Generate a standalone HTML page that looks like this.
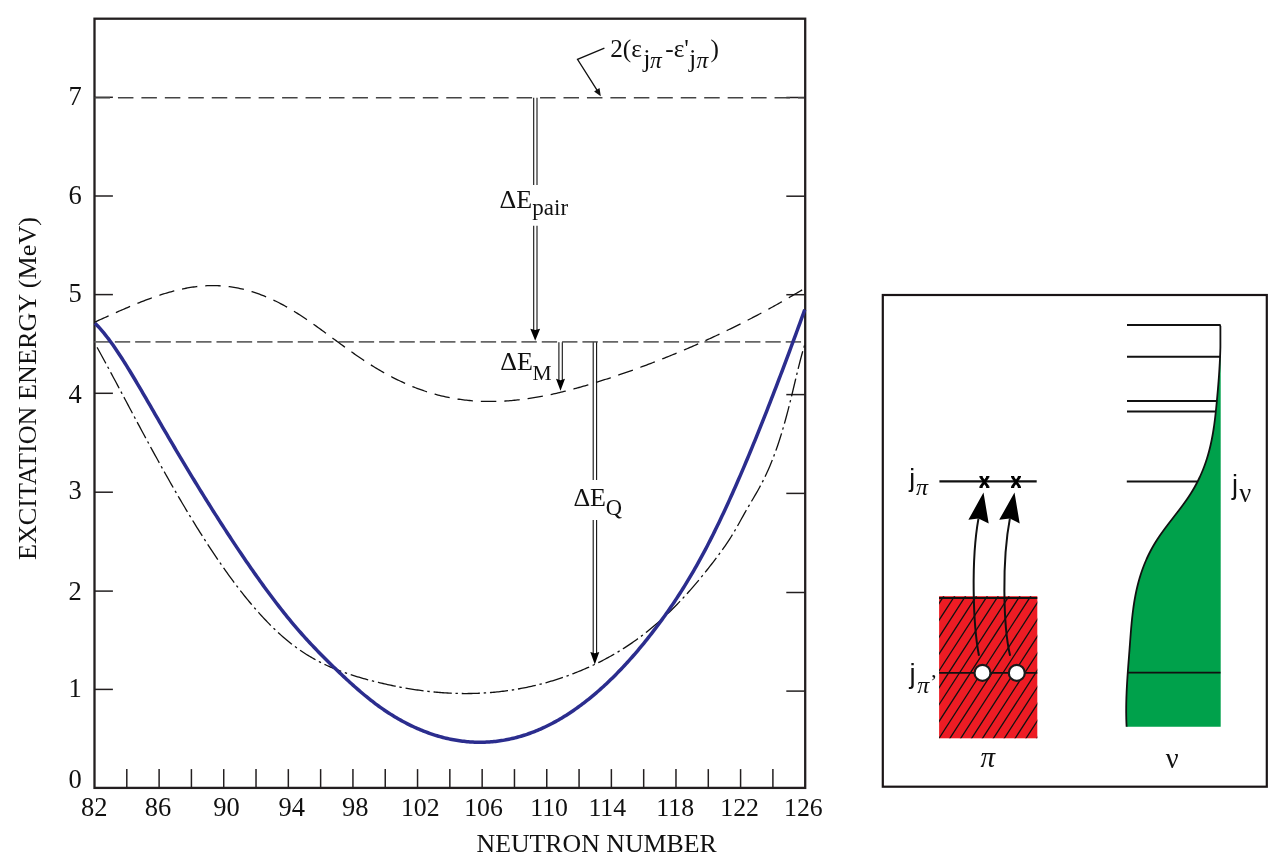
<!DOCTYPE html>
<html><head><meta charset="utf-8"><style>
html,body{margin:0;padding:0;background:#fff;}
svg{display:block;will-change:transform;}
</style></head><body>
<svg width="1288" height="866" viewBox="0 0 1288 866">
<rect x="94.5" y="18.7" width="710.70" height="769.20" fill="none" stroke="#231f20" stroke-width="2.3"/>
<line x1="126.80" y1="787.9" x2="126.80" y2="769.10" stroke="#231f20" stroke-width="1.5"/>
<line x1="159.11" y1="787.9" x2="159.11" y2="769.10" stroke="#231f20" stroke-width="1.5"/>
<line x1="191.41" y1="787.9" x2="191.41" y2="769.10" stroke="#231f20" stroke-width="1.5"/>
<line x1="223.72" y1="787.9" x2="223.72" y2="769.10" stroke="#231f20" stroke-width="1.5"/>
<line x1="256.02" y1="787.9" x2="256.02" y2="769.10" stroke="#231f20" stroke-width="1.5"/>
<line x1="288.33" y1="787.9" x2="288.33" y2="769.10" stroke="#231f20" stroke-width="1.5"/>
<line x1="320.63" y1="787.9" x2="320.63" y2="769.10" stroke="#231f20" stroke-width="1.5"/>
<line x1="352.94" y1="787.9" x2="352.94" y2="769.10" stroke="#231f20" stroke-width="1.5"/>
<line x1="385.24" y1="787.9" x2="385.24" y2="769.10" stroke="#231f20" stroke-width="1.5"/>
<line x1="417.55" y1="787.9" x2="417.55" y2="769.10" stroke="#231f20" stroke-width="1.5"/>
<line x1="449.85" y1="787.9" x2="449.85" y2="769.10" stroke="#231f20" stroke-width="1.5"/>
<line x1="482.15" y1="787.9" x2="482.15" y2="769.10" stroke="#231f20" stroke-width="1.5"/>
<line x1="514.46" y1="787.9" x2="514.46" y2="769.10" stroke="#231f20" stroke-width="1.5"/>
<line x1="546.76" y1="787.9" x2="546.76" y2="769.10" stroke="#231f20" stroke-width="1.5"/>
<line x1="579.07" y1="787.9" x2="579.07" y2="769.10" stroke="#231f20" stroke-width="1.5"/>
<line x1="611.37" y1="787.9" x2="611.37" y2="769.10" stroke="#231f20" stroke-width="1.5"/>
<line x1="643.68" y1="787.9" x2="643.68" y2="769.10" stroke="#231f20" stroke-width="1.5"/>
<line x1="675.98" y1="787.9" x2="675.98" y2="769.10" stroke="#231f20" stroke-width="1.5"/>
<line x1="708.29" y1="787.9" x2="708.29" y2="769.10" stroke="#231f20" stroke-width="1.5"/>
<line x1="740.59" y1="787.9" x2="740.59" y2="769.10" stroke="#231f20" stroke-width="1.5"/>
<line x1="772.90" y1="787.9" x2="772.90" y2="769.10" stroke="#231f20" stroke-width="1.5"/>
<line x1="94.5" y1="689.40" x2="112.9" y2="689.40" stroke="#231f20" stroke-width="1.5"/>
<line x1="805.2" y1="691.10" x2="786.3" y2="691.10" stroke="#231f20" stroke-width="1.5"/>
<line x1="94.5" y1="591.10" x2="112.9" y2="591.10" stroke="#231f20" stroke-width="1.5"/>
<line x1="805.2" y1="592.50" x2="786.3" y2="592.50" stroke="#231f20" stroke-width="1.5"/>
<line x1="94.5" y1="492.20" x2="112.9" y2="492.20" stroke="#231f20" stroke-width="1.5"/>
<line x1="805.2" y1="493.40" x2="786.3" y2="493.40" stroke="#231f20" stroke-width="1.5"/>
<line x1="94.5" y1="393.30" x2="112.9" y2="393.30" stroke="#231f20" stroke-width="1.5"/>
<line x1="805.2" y1="394.60" x2="786.3" y2="394.60" stroke="#231f20" stroke-width="1.5"/>
<line x1="94.5" y1="294.60" x2="112.9" y2="294.60" stroke="#231f20" stroke-width="1.5"/>
<line x1="805.2" y1="294.70" x2="786.3" y2="294.70" stroke="#231f20" stroke-width="1.5"/>
<line x1="94.5" y1="196.00" x2="112.9" y2="196.00" stroke="#231f20" stroke-width="1.5"/>
<line x1="805.2" y1="196.20" x2="786.3" y2="196.20" stroke="#231f20" stroke-width="1.5"/>
<line x1="94.5" y1="97.30" x2="112.9" y2="97.30" stroke="#231f20" stroke-width="1.5"/>
<line x1="805.2" y1="97.50" x2="786.3" y2="97.50" stroke="#231f20" stroke-width="1.5"/>
<line x1="94.5" y1="97.8" x2="804.20" y2="97.8" stroke="#444" stroke-width="1.5" stroke-dasharray="15.5 7.95"/>
<line x1="94.5" y1="341.8" x2="801.6" y2="341.8" stroke="#666" stroke-width="1.7" stroke-dasharray="15.35 4.98"/>
<path d="M94.50,322.25 L96.00,321.57 L97.50,320.89 L99.00,320.21 L100.50,319.53 L102.00,318.85 L103.50,318.17 L105.00,317.49 L106.50,316.82 L108.00,316.14 L109.50,315.46 L111.00,314.79 L112.50,314.11 L114.00,313.44 L115.50,312.77 L117.00,312.11 L118.50,311.44 L120.00,310.78 L121.50,310.13 L123.00,309.47 L124.50,308.82 L126.00,308.17 L127.50,307.53 L129.00,306.89 L130.50,306.26 L132.00,305.63 L133.50,305.00 L135.00,304.39 L136.50,303.77 L138.00,303.17 L139.50,302.56 L141.00,301.97 L142.50,301.38 L144.00,300.80 L145.50,300.22 L147.00,299.66 L148.50,299.10 L150.00,298.54 L151.50,298.00 L153.00,297.46 L154.50,296.94 L156.00,296.42 L157.50,295.91 L159.00,295.41 L160.50,294.92 L162.00,294.44 L163.50,293.96 L165.00,293.50 L166.50,293.05 L168.00,292.61 L169.50,292.18 L171.00,291.76 L172.50,291.36 L174.00,290.96 L175.50,290.58 L177.00,290.21 L178.50,289.85 L180.00,289.50 L181.50,289.17 L183.00,288.85 L184.50,288.54 L186.00,288.25 L187.50,287.97 L189.00,287.71 L190.50,287.46 L192.00,287.22 L193.50,287.00 L195.00,286.79 L196.50,286.60 L198.00,286.43 L199.50,286.27 L201.00,286.12 L202.50,285.99 L204.00,285.88 L205.50,285.79 L207.00,285.71 L208.50,285.65 L210.00,285.61 L211.50,285.58 L213.00,285.58 L214.50,285.59 L216.00,285.62 L217.50,285.67 L219.00,285.73 L220.50,285.82 L222.00,285.92 L223.50,286.04 L225.00,286.18 L226.50,286.33 L228.00,286.51 L229.50,286.70 L231.00,286.91 L232.50,287.14 L234.00,287.38 L235.50,287.65 L237.00,287.93 L238.50,288.23 L240.00,288.54 L241.50,288.87 L243.00,289.23 L244.50,289.59 L246.00,289.98 L247.50,290.38 L249.00,290.80 L250.50,291.24 L252.00,291.70 L253.50,292.17 L255.00,292.66 L256.50,293.16 L258.00,293.69 L259.50,294.23 L261.00,294.79 L262.50,295.36 L264.00,295.95 L265.50,296.56 L267.00,297.19 L268.50,297.83 L270.00,298.49 L271.50,299.16 L273.00,299.85 L274.50,300.56 L276.00,301.29 L277.50,302.03 L279.00,302.79 L280.50,303.56 L282.00,304.35 L283.50,305.16 L285.00,305.99 L286.50,306.83 L288.00,307.68 L289.50,308.55 L291.00,309.44 L292.50,310.35 L294.00,311.26 L295.50,312.19 L297.00,313.14 L298.50,314.10 L300.00,315.07 L301.50,316.05 L303.00,317.04 L304.50,318.04 L306.00,319.05 L307.50,320.08 L309.00,321.11 L310.50,322.15 L312.00,323.20 L313.50,324.25 L315.00,325.32 L316.50,326.39 L318.00,327.46 L319.50,328.54 L321.00,329.63 L322.50,330.72 L324.00,331.81 L325.50,332.91 L327.00,334.01 L328.50,335.11 L330.00,336.21 L331.50,337.31 L333.00,338.42 L334.50,339.52 L336.00,340.63 L337.50,341.73 L339.00,342.83 L340.50,343.93 L342.00,345.03 L343.50,346.12 L345.00,347.21 L346.50,348.30 L348.00,349.38 L349.50,350.46 L351.00,351.53 L352.50,352.59 L354.00,353.65 L355.50,354.69 L357.00,355.74 L358.50,356.77 L360.00,357.79 L361.50,358.81 L363.00,359.81 L364.50,360.80 L366.00,361.79 L367.50,362.76 L369.00,363.72 L370.50,364.67 L372.00,365.61 L373.50,366.54 L375.00,367.45 L376.50,368.36 L378.00,369.25 L379.50,370.13 L381.00,371.00 L382.50,371.86 L384.00,372.71 L385.50,373.55 L387.00,374.37 L388.50,375.18 L390.00,375.98 L391.50,376.77 L393.00,377.55 L394.50,378.31 L396.00,379.07 L397.50,379.81 L399.00,380.53 L400.50,381.25 L402.00,381.95 L403.50,382.65 L405.00,383.32 L406.50,383.99 L408.00,384.65 L409.50,385.29 L411.00,385.92 L412.50,386.53 L414.00,387.14 L415.50,387.73 L417.00,388.30 L418.50,388.87 L420.00,389.42 L421.50,389.96 L423.00,390.48 L424.50,391.00 L426.00,391.50 L427.50,391.98 L429.00,392.46 L430.50,392.91 L432.00,393.36 L433.50,393.79 L435.00,394.22 L436.50,394.62 L438.00,395.02 L439.50,395.40 L441.00,395.77 L442.50,396.13 L444.00,396.47 L445.50,396.80 L447.00,397.12 L448.50,397.43 L450.00,397.73 L451.50,398.01 L453.00,398.28 L454.50,398.54 L456.00,398.79 L457.50,399.03 L459.00,399.26 L460.50,399.47 L462.00,399.67 L463.50,399.86 L465.00,400.04 L466.50,400.21 L468.00,400.37 L469.50,400.52 L471.00,400.65 L472.50,400.78 L474.00,400.89 L475.50,401.00 L477.00,401.09 L478.50,401.17 L480.00,401.25 L481.50,401.31 L483.00,401.36 L484.50,401.40 L486.00,401.44 L487.50,401.46 L489.00,401.47 L490.50,401.47 L492.00,401.47 L493.50,401.45 L495.00,401.43 L496.50,401.39 L498.00,401.35 L499.50,401.29 L501.00,401.23 L502.50,401.16 L504.00,401.08 L505.50,400.99 L507.00,400.89 L508.50,400.78 L510.00,400.66 L511.50,400.54 L513.00,400.41 L514.50,400.27 L516.00,400.12 L517.50,399.96 L519.00,399.79 L520.50,399.62 L522.00,399.44 L523.50,399.25 L525.00,399.05 L526.50,398.84 L528.00,398.63 L529.50,398.41 L531.00,398.18 L532.50,397.95 L534.00,397.71 L535.50,397.46 L537.00,397.20 L538.50,396.94 L540.00,396.67 L541.50,396.39 L543.00,396.11 L544.50,395.82 L546.00,395.52 L547.50,395.21 L549.00,394.90 L550.50,394.59 L552.00,394.27 L553.50,393.94 L555.00,393.60 L556.50,393.26 L558.00,392.92 L559.50,392.56 L561.00,392.21 L562.50,391.84 L564.00,391.47 L565.50,391.10 L567.00,390.72 L568.50,390.33 L570.00,389.94 L571.50,389.55 L573.00,389.15 L574.50,388.74 L576.00,388.33 L577.50,387.92 L579.00,387.50 L580.50,387.07 L582.00,386.65 L583.50,386.21 L585.00,385.78 L586.50,385.33 L588.00,384.89 L589.50,384.44 L591.00,383.98 L592.50,383.53 L594.00,383.07 L595.50,382.60 L597.00,382.13 L598.50,381.66 L600.00,381.18 L601.50,380.70 L603.00,380.22 L604.50,379.74 L606.00,379.25 L607.50,378.76 L609.00,378.26 L610.50,377.76 L612.00,377.26 L613.50,376.76 L615.00,376.26 L616.50,375.75 L618.00,375.24 L619.50,374.72 L621.00,374.21 L622.50,373.69 L624.00,373.17 L625.50,372.64 L627.00,372.11 L628.50,371.59 L630.00,371.05 L631.50,370.52 L633.00,369.98 L634.50,369.44 L636.00,368.90 L637.50,368.35 L639.00,367.80 L640.50,367.25 L642.00,366.70 L643.50,366.14 L645.00,365.58 L646.50,365.02 L648.00,364.45 L649.50,363.88 L651.00,363.31 L652.50,362.74 L654.00,362.16 L655.50,361.58 L657.00,361.00 L658.50,360.42 L660.00,359.83 L661.50,359.24 L663.00,358.64 L664.50,358.05 L666.00,357.45 L667.50,356.84 L669.00,356.24 L670.50,355.63 L672.00,355.02 L673.50,354.41 L675.00,353.79 L676.50,353.17 L678.00,352.55 L679.50,351.92 L681.00,351.29 L682.50,350.66 L684.00,350.02 L685.50,349.39 L687.00,348.74 L688.50,348.10 L690.00,347.45 L691.50,346.80 L693.00,346.15 L694.50,345.49 L696.00,344.84 L697.50,344.17 L699.00,343.51 L700.50,342.84 L702.00,342.17 L703.50,341.49 L705.00,340.82 L706.50,340.13 L708.00,339.45 L709.50,338.76 L711.00,338.07 L712.50,337.38 L714.00,336.68 L715.50,335.98 L717.00,335.28 L718.50,334.57 L720.00,333.86 L721.50,333.15 L723.00,332.44 L724.50,331.72 L726.00,330.99 L727.50,330.27 L729.00,329.54 L730.50,328.81 L732.00,328.07 L733.50,327.33 L735.00,326.59 L736.50,325.85 L738.00,325.10 L739.50,324.35 L741.00,323.59 L742.50,322.83 L744.00,322.07 L745.50,321.31 L747.00,320.54 L748.50,319.77 L750.00,318.99 L751.50,318.21 L753.00,317.43 L754.50,316.65 L756.00,315.86 L757.50,315.07 L759.00,314.27 L760.50,313.47 L762.00,312.67 L763.50,311.86 L765.00,311.06 L766.50,310.24 L768.00,309.43 L769.50,308.61 L771.00,307.78 L772.50,306.96 L774.00,306.13 L775.50,305.29 L777.00,304.46 L778.50,303.62 L780.00,302.77 L781.50,301.92 L783.00,301.07 L784.50,300.22 L786.00,299.36 L787.50,298.50 L789.00,297.63 L790.50,296.76 L792.00,295.89 L793.50,295.02 L795.00,294.14 L796.50,293.25 L798.00,292.37 L799.50,291.48 L801.00,290.58 L802.50,289.68 L803.00,289.38" fill="none" stroke="#111" stroke-width="1.3" stroke-dasharray="15.5 7.95"/>
<path d="M96.50,346.35 L98.00,349.06 L99.50,351.77 L101.00,354.50 L102.50,357.24 L104.00,359.99 L105.50,362.76 L107.00,365.53 L108.50,368.30 L110.00,371.09 L111.50,373.89 L113.00,376.69 L114.50,379.49 L116.00,382.30 L117.50,385.12 L119.00,387.94 L120.50,390.76 L122.00,393.58 L123.50,396.41 L125.00,399.24 L126.50,402.06 L128.00,404.89 L129.50,407.71 L131.00,410.54 L132.50,413.36 L134.00,416.18 L135.50,418.99 L137.00,421.80 L138.50,424.60 L140.00,427.40 L141.50,430.20 L143.00,432.99 L144.50,435.77 L146.00,438.55 L147.50,441.32 L149.00,444.08 L150.50,446.84 L152.00,449.59 L153.50,452.33 L155.00,455.07 L156.50,457.80 L158.00,460.52 L159.50,463.23 L161.00,465.93 L162.50,468.62 L164.00,471.31 L165.50,473.98 L167.00,476.65 L168.50,479.30 L170.00,481.95 L171.50,484.58 L173.00,487.21 L174.50,489.82 L176.00,492.43 L177.50,495.02 L179.00,497.60 L180.50,500.16 L182.00,502.72 L183.50,505.26 L185.00,507.79 L186.50,510.31 L188.00,512.81 L189.50,515.30 L191.00,517.78 L192.50,520.24 L194.00,522.69 L195.50,525.13 L197.00,527.55 L198.50,529.95 L200.00,532.34 L201.50,534.72 L203.00,537.08 L204.50,539.43 L206.00,541.76 L207.50,544.08 L209.00,546.38 L210.50,548.66 L212.00,550.93 L213.50,553.19 L215.00,555.42 L216.50,557.64 L218.00,559.85 L219.50,562.03 L221.00,564.20 L222.50,566.36 L224.00,568.49 L225.50,570.61 L227.00,572.71 L228.50,574.79 L230.00,576.86 L231.50,578.90 L233.00,580.93 L234.50,582.94 L236.00,584.93 L237.50,586.90 L239.00,588.86 L240.50,590.79 L242.00,592.70 L243.50,594.60 L245.00,596.47 L246.50,598.33 L248.00,600.16 L249.50,601.98 L251.00,603.77 L252.50,605.55 L254.00,607.30 L255.50,609.04 L257.00,610.75 L258.50,612.44 L260.00,614.11 L261.50,615.75 L263.00,617.38 L264.50,618.98 L266.00,620.57 L267.50,622.13 L269.00,623.66 L270.50,625.18 L272.00,626.67 L273.50,628.14 L275.00,629.58 L276.50,631.01 L278.00,632.41 L279.50,633.78 L281.00,635.13 L282.50,636.46 L284.00,637.77 L285.50,639.05 L287.00,640.30 L288.50,641.53 L290.00,642.74 L291.50,643.92 L293.00,645.08 L294.50,646.21 L296.00,647.32 L297.50,648.40 L299.00,649.46 L300.50,650.50 L302.00,651.52 L303.50,652.51 L305.00,653.48 L306.50,654.43 L308.00,655.36 L309.50,656.27 L311.00,657.16 L312.50,658.03 L314.00,658.88 L315.50,659.71 L317.00,660.53 L318.50,661.32 L320.00,662.10 L321.50,662.86 L323.00,663.60 L324.50,664.32 L326.00,665.03 L327.50,665.72 L329.00,666.40 L330.50,667.06 L332.00,667.71 L333.50,668.34 L335.00,668.96 L336.50,669.56 L338.00,670.15 L339.50,670.73 L341.00,671.30 L342.50,671.85 L344.00,672.39 L345.50,672.92 L347.00,673.44 L348.50,673.95 L350.00,674.45 L351.50,674.94 L353.00,675.42 L354.50,675.88 L356.00,676.34 L357.50,676.80 L359.00,677.24 L360.50,677.68 L362.00,678.11 L363.50,678.53 L365.00,678.94 L366.50,679.35 L368.00,679.76 L369.50,680.16 L371.00,680.55 L372.50,680.94 L374.00,681.32 L375.50,681.70 L377.00,682.07 L378.50,682.44 L380.00,682.80 L381.50,683.15 L383.00,683.50 L384.50,683.85 L386.00,684.19 L387.50,684.52 L389.00,684.85 L390.50,685.18 L392.00,685.49 L393.50,685.80 L395.00,686.11 L396.50,686.41 L398.00,686.71 L399.50,686.99 L401.00,687.28 L402.50,687.55 L404.00,687.83 L405.50,688.09 L407.00,688.35 L408.50,688.61 L410.00,688.85 L411.50,689.09 L413.00,689.33 L414.50,689.56 L416.00,689.78 L417.50,690.00 L419.00,690.21 L420.50,690.42 L422.00,690.62 L423.50,690.81 L425.00,690.99 L426.50,691.17 L428.00,691.35 L429.50,691.52 L431.00,691.68 L432.50,691.83 L434.00,691.98 L435.50,692.12 L437.00,692.25 L438.50,692.38 L440.00,692.50 L441.50,692.62 L443.00,692.73 L444.50,692.83 L446.00,692.92 L447.50,693.01 L449.00,693.09 L450.50,693.17 L452.00,693.24 L453.50,693.30 L455.00,693.35 L456.50,693.40 L458.00,693.44 L459.50,693.47 L461.00,693.50 L462.50,693.52 L464.00,693.53 L465.50,693.53 L467.00,693.53 L468.50,693.52 L470.00,693.51 L471.50,693.48 L473.00,693.45 L474.50,693.41 L476.00,693.37 L477.50,693.31 L479.00,693.25 L480.50,693.19 L482.00,693.11 L483.50,693.03 L485.00,692.94 L486.50,692.84 L488.00,692.73 L489.50,692.62 L491.00,692.50 L492.50,692.37 L494.00,692.24 L495.50,692.09 L497.00,691.94 L498.50,691.78 L500.00,691.62 L501.50,691.44 L503.00,691.26 L504.50,691.07 L506.00,690.88 L507.50,690.67 L509.00,690.46 L510.50,690.24 L512.00,690.01 L513.50,689.77 L515.00,689.53 L516.50,689.27 L518.00,689.01 L519.50,688.75 L521.00,688.47 L522.50,688.18 L524.00,687.89 L525.50,687.59 L527.00,687.28 L528.50,686.96 L530.00,686.64 L531.50,686.31 L533.00,685.96 L534.50,685.61 L536.00,685.26 L537.50,684.89 L539.00,684.51 L540.50,684.13 L542.00,683.74 L543.50,683.34 L545.00,682.93 L546.50,682.51 L548.00,682.09 L549.50,681.65 L551.00,681.21 L552.50,680.76 L554.00,680.30 L555.50,679.83 L557.00,679.36 L558.50,678.87 L560.00,678.38 L561.50,677.87 L563.00,677.36 L564.50,676.84 L566.00,676.31 L567.50,675.78 L569.00,675.23 L570.50,674.67 L572.00,674.11 L573.50,673.54 L575.00,672.95 L576.50,672.36 L578.00,671.76 L579.50,671.15 L581.00,670.54 L582.50,669.91 L584.00,669.27 L585.50,668.62 L587.00,667.97 L588.50,667.30 L590.00,666.62 L591.50,665.93 L593.00,665.23 L594.50,664.52 L596.00,663.80 L597.50,663.07 L599.00,662.33 L600.50,661.57 L602.00,660.81 L603.50,660.03 L605.00,659.24 L606.50,658.44 L608.00,657.63 L609.50,656.80 L611.00,655.96 L612.50,655.11 L614.00,654.25 L615.50,653.37 L617.00,652.49 L618.50,651.58 L620.00,650.67 L621.50,649.74 L623.00,648.80 L624.50,647.84 L626.00,646.87 L627.50,645.88 L629.00,644.88 L630.50,643.87 L632.00,642.84 L633.50,641.80 L635.00,640.74 L636.50,639.67 L638.00,638.58 L639.50,637.48 L641.00,636.36 L642.50,635.23 L644.00,634.08 L645.50,632.91 L647.00,631.73 L648.50,630.53 L650.00,629.31 L651.50,628.08 L653.00,626.83 L654.50,625.57 L656.00,624.29 L657.50,622.99 L659.00,621.67 L660.50,620.34 L662.00,618.98 L663.50,617.61 L665.00,616.23 L666.50,614.82 L668.00,613.40 L669.50,611.95 L671.00,610.49 L672.50,609.01 L674.00,607.51 L675.50,606.00 L677.00,604.46 L678.50,602.91 L680.00,601.33 L681.50,599.74 L683.00,598.13 L684.50,596.50 L686.00,594.86 L687.50,593.20 L689.00,591.51 L690.50,589.82 L692.00,588.10 L693.50,586.37 L695.00,584.61 L696.50,582.85 L698.00,581.06 L699.50,579.26 L701.00,577.44 L702.50,575.60 L704.00,573.75 L705.50,571.88 L707.00,570.00 L708.50,568.10 L710.00,566.18 L711.50,564.25 L713.00,562.30 L714.50,560.33 L716.00,558.35 L717.50,556.36 L719.00,554.35 L720.50,552.31 L722.00,550.25 L723.50,548.16 L725.00,546.03 L726.50,543.85 L728.00,541.63 L729.50,539.35 L731.00,537.00 L732.50,534.59 L734.00,532.10 L735.50,529.54 L737.00,526.91 L738.50,524.24 L740.00,521.53 L741.50,518.81 L743.00,516.10 L744.50,513.40 L746.00,510.75 L747.50,508.14 L749.00,505.58 L750.50,503.04 L752.00,500.51 L753.50,497.98 L755.00,495.43 L756.50,492.85 L758.00,490.21 L759.50,487.52 L761.00,484.74 L762.50,481.87 L764.00,478.89 L765.50,475.80 L767.00,472.58 L768.50,469.23 L770.00,465.74 L771.50,462.10 L773.00,458.31 L774.50,454.35 L776.00,450.23 L777.50,445.93 L779.00,441.45 L780.50,436.78 L782.00,431.91 L783.50,426.83 L785.00,421.54 L786.50,416.04 L788.00,410.34 L789.50,404.45 L791.00,398.42 L792.50,392.26 L794.00,386.01 L795.50,379.73 L797.00,373.51 L798.50,367.40 L800.00,361.47 L801.50,355.79 L803.00,350.42 L804.50,345.43 L804.80,344.49" fill="none" stroke="#111" stroke-width="1.3" stroke-dasharray="18.2 3.8 2.4 3.85" stroke-dashoffset="-1.2"/>
<path d="M95.00,323.20 L96.50,324.71 L98.00,326.28 L99.50,327.92 L101.00,329.62 L102.50,331.37 L104.00,333.18 L105.50,335.05 L107.00,336.96 L108.50,338.93 L110.00,340.94 L111.50,343.00 L113.00,345.11 L114.50,347.25 L116.00,349.44 L117.50,351.66 L119.00,353.92 L120.50,356.21 L122.00,358.53 L123.50,360.88 L125.00,363.26 L126.50,365.66 L128.00,368.09 L129.50,370.53 L131.00,373.00 L132.50,375.48 L134.00,377.98 L135.50,380.50 L137.00,383.03 L138.50,385.57 L140.00,388.13 L141.50,390.69 L143.00,393.27 L144.50,395.85 L146.00,398.44 L147.50,401.03 L149.00,403.63 L150.50,406.23 L152.00,408.84 L153.50,411.44 L155.00,414.04 L156.50,416.64 L158.00,419.24 L159.50,421.84 L161.00,424.42 L162.50,427.01 L164.00,429.59 L165.50,432.16 L167.00,434.73 L168.50,437.29 L170.00,439.85 L171.50,442.40 L173.00,444.95 L174.50,447.50 L176.00,450.03 L177.50,452.56 L179.00,455.09 L180.50,457.61 L182.00,460.12 L183.50,462.63 L185.00,465.13 L186.50,467.63 L188.00,470.12 L189.50,472.61 L191.00,475.08 L192.50,477.55 L194.00,480.02 L195.50,482.48 L197.00,484.93 L198.50,487.38 L200.00,489.81 L201.50,492.25 L203.00,494.67 L204.50,497.09 L206.00,499.50 L207.50,501.90 L209.00,504.30 L210.50,506.69 L212.00,509.07 L213.50,511.45 L215.00,513.82 L216.50,516.18 L218.00,518.53 L219.50,520.87 L221.00,523.21 L222.50,525.54 L224.00,527.86 L225.50,530.17 L227.00,532.48 L228.50,534.77 L230.00,537.06 L231.50,539.34 L233.00,541.62 L234.50,543.88 L236.00,546.13 L237.50,548.38 L239.00,550.62 L240.50,552.85 L242.00,555.07 L243.50,557.28 L245.00,559.48 L246.50,561.67 L248.00,563.86 L249.50,566.03 L251.00,568.19 L252.50,570.35 L254.00,572.49 L255.50,574.62 L257.00,576.74 L258.50,578.85 L260.00,580.95 L261.50,583.04 L263.00,585.12 L264.50,587.18 L266.00,589.23 L267.50,591.27 L269.00,593.30 L270.50,595.31 L272.00,597.31 L273.50,599.30 L275.00,601.27 L276.50,603.23 L278.00,605.17 L279.50,607.10 L281.00,609.02 L282.50,610.92 L284.00,612.81 L285.50,614.68 L287.00,616.54 L288.50,618.38 L290.00,620.20 L291.50,622.01 L293.00,623.81 L294.50,625.58 L296.00,627.34 L297.50,629.09 L299.00,630.81 L300.50,632.52 L302.00,634.22 L303.50,635.89 L305.00,637.56 L306.50,639.21 L308.00,640.84 L309.50,642.46 L311.00,644.07 L312.50,645.67 L314.00,647.25 L315.50,648.82 L317.00,650.38 L318.50,651.93 L320.00,653.47 L321.50,654.99 L323.00,656.51 L324.50,658.02 L326.00,659.52 L327.50,661.01 L329.00,662.49 L330.50,663.96 L332.00,665.43 L333.50,666.89 L335.00,668.34 L336.50,669.78 L338.00,671.22 L339.50,672.65 L341.00,674.08 L342.50,675.50 L344.00,676.90 L345.50,678.30 L347.00,679.69 L348.50,681.07 L350.00,682.44 L351.50,683.80 L353.00,685.15 L354.50,686.49 L356.00,687.81 L357.50,689.12 L359.00,690.43 L360.50,691.71 L362.00,692.99 L363.50,694.25 L365.00,695.49 L366.50,696.72 L368.00,697.94 L369.50,699.13 L371.00,700.32 L372.50,701.48 L374.00,702.63 L375.50,703.77 L377.00,704.88 L378.50,705.98 L380.00,707.06 L381.50,708.12 L383.00,709.16 L384.50,710.19 L386.00,711.20 L387.50,712.20 L389.00,713.17 L390.50,714.13 L392.00,715.07 L393.50,716.00 L395.00,716.91 L396.50,717.80 L398.00,718.68 L399.50,719.53 L401.00,720.38 L402.50,721.20 L404.00,722.01 L405.50,722.80 L407.00,723.58 L408.50,724.34 L410.00,725.08 L411.50,725.81 L413.00,726.52 L414.50,727.22 L416.00,727.90 L417.50,728.56 L419.00,729.21 L420.50,729.84 L422.00,730.46 L423.50,731.06 L425.00,731.64 L426.50,732.21 L428.00,732.76 L429.50,733.30 L431.00,733.82 L432.50,734.33 L434.00,734.82 L435.50,735.30 L437.00,735.76 L438.50,736.20 L440.00,736.63 L441.50,737.05 L443.00,737.44 L444.50,737.83 L446.00,738.19 L447.50,738.54 L449.00,738.88 L450.50,739.20 L452.00,739.50 L453.50,739.79 L455.00,740.06 L456.50,740.32 L458.00,740.56 L459.50,740.79 L461.00,740.99 L462.50,741.19 L464.00,741.36 L465.50,741.53 L467.00,741.67 L468.50,741.80 L470.00,741.91 L471.50,742.01 L473.00,742.09 L474.50,742.16 L476.00,742.21 L477.50,742.24 L479.00,742.26 L480.50,742.26 L482.00,742.25 L483.50,742.22 L485.00,742.17 L486.50,742.11 L488.00,742.03 L489.50,741.94 L491.00,741.83 L492.50,741.70 L494.00,741.56 L495.50,741.40 L497.00,741.22 L498.50,741.03 L500.00,740.82 L501.50,740.60 L503.00,740.36 L504.50,740.10 L506.00,739.83 L507.50,739.54 L509.00,739.23 L510.50,738.91 L512.00,738.57 L513.50,738.22 L515.00,737.85 L516.50,737.46 L518.00,737.06 L519.50,736.64 L521.00,736.20 L522.50,735.75 L524.00,735.28 L525.50,734.79 L527.00,734.29 L528.50,733.77 L530.00,733.24 L531.50,732.68 L533.00,732.11 L534.50,731.53 L536.00,730.93 L537.50,730.31 L539.00,729.67 L540.50,729.02 L542.00,728.35 L543.50,727.67 L545.00,726.97 L546.50,726.25 L548.00,725.51 L549.50,724.76 L551.00,723.99 L552.50,723.21 L554.00,722.41 L555.50,721.59 L557.00,720.75 L558.50,719.90 L560.00,719.03 L561.50,718.15 L563.00,717.24 L564.50,716.32 L566.00,715.39 L567.50,714.43 L569.00,713.46 L570.50,712.47 L572.00,711.47 L573.50,710.45 L575.00,709.41 L576.50,708.36 L578.00,707.28 L579.50,706.19 L581.00,705.09 L582.50,703.96 L584.00,702.82 L585.50,701.67 L587.00,700.49 L588.50,699.30 L590.00,698.09 L591.50,696.86 L593.00,695.62 L594.50,694.36 L596.00,693.08 L597.50,691.79 L599.00,690.48 L600.50,689.15 L602.00,687.80 L603.50,686.44 L605.00,685.05 L606.50,683.66 L608.00,682.24 L609.50,680.81 L611.00,679.36 L612.50,677.89 L614.00,676.40 L615.50,674.90 L617.00,673.38 L618.50,671.84 L620.00,670.29 L621.50,668.72 L623.00,667.13 L624.50,665.52 L626.00,663.90 L627.50,662.25 L629.00,660.59 L630.50,658.92 L632.00,657.22 L633.50,655.51 L635.00,653.78 L636.50,652.03 L638.00,650.27 L639.50,648.48 L641.00,646.68 L642.50,644.86 L644.00,643.03 L645.50,641.18 L647.00,639.30 L648.50,637.42 L650.00,635.51 L651.50,633.58 L653.00,631.64 L654.50,629.68 L656.00,627.70 L657.50,625.71 L659.00,623.69 L660.50,621.66 L662.00,619.60 L663.50,617.53 L665.00,615.44 L666.50,613.32 L668.00,611.18 L669.50,609.02 L671.00,606.84 L672.50,604.63 L674.00,602.41 L675.50,600.15 L677.00,597.88 L678.50,595.57 L680.00,593.24 L681.50,590.89 L683.00,588.51 L684.50,586.10 L686.00,583.67 L687.50,581.21 L689.00,578.71 L690.50,576.19 L692.00,573.65 L693.50,571.07 L695.00,568.46 L696.50,565.82 L698.00,563.15 L699.50,560.44 L701.00,557.71 L702.50,554.94 L704.00,552.14 L705.50,549.31 L707.00,546.44 L708.50,543.54 L710.00,540.61 L711.50,537.65 L713.00,534.66 L714.50,531.64 L716.00,528.59 L717.50,525.51 L719.00,522.40 L720.50,519.26 L722.00,516.10 L723.50,512.91 L725.00,509.69 L726.50,506.44 L728.00,503.17 L729.50,499.87 L731.00,496.55 L732.50,493.20 L734.00,489.83 L735.50,486.43 L737.00,483.01 L738.50,479.57 L740.00,476.11 L741.50,472.62 L743.00,469.11 L744.50,465.58 L746.00,462.03 L747.50,458.46 L749.00,454.86 L750.50,451.25 L752.00,447.62 L753.50,443.96 L755.00,440.29 L756.50,436.60 L758.00,432.89 L759.50,429.17 L761.00,425.42 L762.50,421.66 L764.00,417.88 L765.50,414.08 L767.00,410.27 L768.50,406.44 L770.00,402.59 L771.50,398.73 L773.00,394.85 L774.50,390.96 L776.00,387.05 L777.50,383.13 L779.00,379.20 L780.50,375.25 L782.00,371.28 L783.50,367.31 L785.00,363.32 L786.50,359.32 L788.00,355.31 L789.50,351.28 L791.00,347.25 L792.50,343.20 L794.00,339.14 L795.50,335.07 L797.00,330.99 L798.50,326.90 L800.00,322.81 L801.50,318.70 L803.00,314.58 L804.50,310.46 L804.80,309.63" fill="none" stroke="#2b2d8e" stroke-width="3.5" stroke-linecap="butt"/>
<line x1="533.7" y1="97.8" x2="533.7" y2="185" stroke="#111" stroke-width="1.1"/>
<line x1="537.0" y1="97.8" x2="537.0" y2="185" stroke="#111" stroke-width="1.1"/>
<line x1="533.7" y1="225.7" x2="533.7" y2="330" stroke="#111" stroke-width="1.1"/>
<line x1="537.0" y1="225.7" x2="537.0" y2="330" stroke="#111" stroke-width="1.1"/>
<path d="M535.2,340.7 L530.3000000000001,328.7 L535.2,330.09999999999997 L540.1,328.7 Z" fill="#000"/>
<line x1="558.9" y1="342.3" x2="558.9" y2="380" stroke="#111" stroke-width="1.1"/>
<line x1="562.3" y1="342.3" x2="562.3" y2="380" stroke="#111" stroke-width="1.1"/>
<path d="M560.5,390.8 L556.0,378.8 L560.5,380.2 L565.0,378.8 Z" fill="#000"/>
<line x1="593.2" y1="342.3" x2="593.2" y2="479.9" stroke="#111" stroke-width="1.1"/>
<line x1="596.6" y1="342.3" x2="596.6" y2="479.9" stroke="#111" stroke-width="1.1"/>
<line x1="593.2" y1="520" x2="593.2" y2="653" stroke="#111" stroke-width="1.1"/>
<line x1="596.6" y1="520" x2="596.6" y2="653" stroke="#111" stroke-width="1.1"/>
<path d="M594.8,664.4 L590.3,651.9 L594.8,653.3 L599.3,651.9 Z" fill="#000"/>
<path d="M604.4,48.1 L577.5,59.4 L597.5,90.9" fill="none" stroke="#111" stroke-width="1.3"/>
<path d="M600.8,96.3 L594.1,91.6 L599.5,88.1 Z" fill="#111"/>
<text x="81.8" y="104.6" font-size="26.5" text-anchor="end" font-family="Liberation Serif, serif" fill="#111">7</text>
<text x="81.8" y="203.8" font-size="26.5" text-anchor="end" font-family="Liberation Serif, serif" fill="#111">6</text>
<text x="81.8" y="301.5" font-size="26.5" text-anchor="end" font-family="Liberation Serif, serif" fill="#111">5</text>
<text x="81.8" y="402.5" font-size="26.5" text-anchor="end" font-family="Liberation Serif, serif" fill="#111">4</text>
<text x="81.8" y="498.7" font-size="26.5" text-anchor="end" font-family="Liberation Serif, serif" fill="#111">3</text>
<text x="81.8" y="599.9" font-size="26.5" text-anchor="end" font-family="Liberation Serif, serif" fill="#111">2</text>
<text x="81.8" y="696.9" font-size="26.5" text-anchor="end" font-family="Liberation Serif, serif" fill="#111">1</text>
<text x="81.8" y="787.8" font-size="26.5" text-anchor="end" font-family="Liberation Serif, serif" fill="#111">0</text>
<text x="81.1" y="816.1" font-size="26.5" font-family="Liberation Serif, serif" fill="#111">82</text>
<text x="144.7" y="816.1" font-size="26.5" font-family="Liberation Serif, serif" fill="#111">86</text>
<text x="213.2" y="816.1" font-size="26.5" font-family="Liberation Serif, serif" fill="#111">90</text>
<text x="278.4" y="816.1" font-size="26.5" font-family="Liberation Serif, serif" fill="#111">94</text>
<text x="342.1" y="816.1" font-size="26.5" font-family="Liberation Serif, serif" fill="#111">98</text>
<text x="400.9" y="816.1" font-size="25.8" font-family="Liberation Serif, serif" fill="#111">102</text>
<text x="464.2" y="816.1" font-size="25.8" font-family="Liberation Serif, serif" fill="#111">106</text>
<text x="530.2" y="816.1" font-size="25.8" font-family="Liberation Serif, serif" fill="#111">110</text>
<text x="588.4" y="816.1" font-size="25.8" font-family="Liberation Serif, serif" fill="#111">114</text>
<text x="656.3" y="816.1" font-size="25.8" font-family="Liberation Serif, serif" fill="#111">118</text>
<text x="720.3" y="816.1" font-size="25.8" font-family="Liberation Serif, serif" fill="#111">122</text>
<text x="784.0" y="816.1" font-size="25.8" font-family="Liberation Serif, serif" fill="#111">126</text>
<text x="596.6" y="852" font-size="25.8" text-anchor="middle" font-family="Liberation Serif, serif" fill="#111">NEUTRON NUMBER</text>
<text transform="translate(36,388.5) rotate(-90)" x="0" y="0" font-size="26.2" text-anchor="middle" font-family="Liberation Serif, serif" fill="#111">EXCITATION ENERGY (MeV)</text>
<text x="499.6" y="208.0" font-size="26" font-family="Liberation Serif" fill="#111" >ΔE</text>
<text x="532.3" y="214.5" font-size="23" font-family="Liberation Serif" fill="#111" >pair</text>
<text x="500.2" y="369.6" font-size="26" font-family="Liberation Serif" fill="#111" >ΔE</text>
<text x="532.5" y="379.7" font-size="21.5" font-family="Liberation Serif" fill="#111" >M</text>
<text x="573.4" y="506.2" font-size="26" font-family="Liberation Serif" fill="#111" >ΔE</text>
<text x="605.8" y="514.5" font-size="22.5" font-family="Liberation Serif" fill="#111" >Q</text>
<text x="610.2" y="56.7" font-size="25.3" font-family="Liberation Serif" fill="#111" >2(ε</text>
<text x="643.3" y="67.3" font-size="26" font-family="Liberation Serif" fill="#111" >j</text>
<text x="650.0" y="68.3" font-size="23.5" font-family="Liberation Serif" fill="#111" font-style="italic">π</text>
<text x="665.3" y="56.7" font-size="25.3" font-family="Liberation Serif" fill="#111" >-ε'</text>
<text x="689.0" y="67.3" font-size="26" font-family="Liberation Serif" fill="#111" >j</text>
<text x="696.5" y="68.3" font-size="23.5" font-family="Liberation Serif" fill="#111" font-style="italic">π</text>
<text x="710.5" y="56.7" font-size="25.3" font-family="Liberation Serif" fill="#111" >)</text>
<rect x="882.8" y="295" width="384" height="491.7" fill="none" stroke="#1a1416" stroke-width="2.2"/>
<defs><clipPath id="rc"><rect x="939.1" y="596.2" width="98.2" height="142.1"/></clipPath></defs>
<rect x="939.1" y="596.2" width="98.2" height="142.1" fill="#ed1c24"/>
<path d="M1066.48,760 L1182.61,580 M1055.60,760 L1171.73,580 M1044.72,760 L1160.85,580 M1033.84,760 L1149.97,580 M1022.96,760 L1139.09,580 M1012.08,760 L1128.21,580 M1001.20,760 L1117.33,580 M990.32,760 L1106.45,580 M979.44,760 L1095.57,580 M968.56,760 L1084.69,580 M957.68,760 L1073.81,580 M946.80,760 L1062.93,580 M935.92,760 L1052.05,580 M925.04,760 L1041.17,580 M914.16,760 L1030.29,580 M903.28,760 L1019.41,580 M892.40,760 L1008.53,580 M881.52,760 L997.65,580 M870.64,760 L986.77,580 M859.76,760 L975.89,580 M848.88,760 L965.01,580 M838.00,760 L954.13,580 M827.12,760 L943.25,580 M816.24,760 L932.37,580 M805.36,760 L921.49,580" stroke="#111" stroke-width="1.3" clip-path="url(#rc)"/>
<line x1="939.1" y1="598" x2="1037.3" y2="598" stroke="#111" stroke-width="1.8"/>
<line x1="939.1" y1="672.9" x2="1037.3" y2="672.9" stroke="#111" stroke-width="1.8"/>
<line x1="939.4" y1="481.4" x2="1036.7" y2="481.4" stroke="#111" stroke-width="2.2"/>
<path d="M1220.7,326 L1220.39,326.00 L1220.40,327.50 L1220.40,329.00 L1220.40,330.50 L1220.40,332.00 L1220.40,333.50 L1220.40,335.00 L1220.40,336.50 L1220.40,338.00 L1220.40,339.50 L1220.40,341.00 L1220.40,342.50 L1220.40,344.00 L1220.40,345.50 L1220.39,347.00 L1220.36,348.50 L1220.31,350.00 L1220.27,351.50 L1220.21,353.00 L1220.16,354.50 L1220.10,356.00 L1220.04,357.50 L1219.97,359.00 L1219.90,360.50 L1219.82,362.00 L1219.74,363.50 L1219.66,365.00 L1219.57,366.50 L1219.48,368.00 L1219.39,369.50 L1219.29,371.00 L1219.19,372.50 L1219.09,374.00 L1218.99,375.50 L1218.88,377.00 L1218.77,378.50 L1218.65,380.00 L1218.54,381.50 L1218.42,383.00 L1218.30,384.50 L1218.18,386.00 L1218.05,387.50 L1217.93,389.00 L1217.80,390.50 L1217.67,392.00 L1217.53,393.50 L1217.40,395.00 L1217.27,396.50 L1217.13,398.00 L1216.99,399.50 L1216.85,401.00 L1216.71,402.50 L1216.57,404.00 L1216.42,405.50 L1216.28,407.00 L1216.13,408.50 L1215.97,410.00 L1215.82,411.50 L1215.66,413.00 L1215.49,414.50 L1215.32,416.00 L1215.15,417.50 L1214.97,419.00 L1214.78,420.50 L1214.59,422.00 L1214.39,423.50 L1214.19,425.00 L1213.98,426.50 L1213.75,428.00 L1213.53,429.50 L1213.29,431.00 L1213.04,432.50 L1212.79,434.00 L1212.52,435.50 L1212.24,437.00 L1211.96,438.50 L1211.66,440.00 L1211.35,441.50 L1211.03,443.00 L1210.70,444.50 L1210.36,446.00 L1210.00,447.50 L1209.63,449.00 L1209.24,450.50 L1208.85,452.00 L1208.43,453.50 L1208.01,455.00 L1207.57,456.50 L1207.11,458.00 L1206.64,459.50 L1206.15,461.00 L1205.64,462.50 L1205.12,464.00 L1204.58,465.50 L1204.02,467.00 L1203.44,468.50 L1202.85,470.00 L1202.23,471.50 L1201.60,473.00 L1200.94,474.50 L1200.27,476.00 L1199.58,477.50 L1198.86,479.00 L1198.13,480.50 L1197.37,482.00 L1196.59,483.50 L1195.79,485.00 L1194.96,486.50 L1194.11,488.00 L1193.24,489.50 L1192.35,491.00 L1191.43,492.50 L1190.48,494.00 L1189.51,495.50 L1188.52,497.00 L1187.50,498.50 L1186.46,500.00 L1185.40,501.50 L1184.33,503.00 L1183.23,504.50 L1182.13,506.00 L1181.01,507.50 L1179.87,509.00 L1178.73,510.50 L1177.58,512.00 L1176.43,513.50 L1175.27,515.00 L1174.11,516.50 L1172.95,518.00 L1171.79,519.50 L1170.63,521.00 L1169.47,522.50 L1168.33,524.00 L1167.19,525.50 L1166.05,527.00 L1164.93,528.50 L1163.83,530.00 L1162.74,531.50 L1161.66,533.00 L1160.60,534.50 L1159.57,536.00 L1158.55,537.50 L1157.56,539.00 L1156.59,540.50 L1155.65,542.00 L1154.73,543.50 L1153.84,545.00 L1152.97,546.50 L1152.13,548.00 L1151.31,549.50 L1150.51,551.00 L1149.74,552.50 L1148.98,554.00 L1148.25,555.50 L1147.54,557.00 L1146.85,558.50 L1146.19,560.00 L1145.54,561.50 L1144.91,563.00 L1144.30,564.50 L1143.71,566.00 L1143.14,567.50 L1142.59,569.00 L1142.05,570.50 L1141.54,572.00 L1141.04,573.50 L1140.55,575.00 L1140.09,576.50 L1139.63,578.00 L1139.20,579.50 L1138.78,581.00 L1138.37,582.50 L1137.98,584.00 L1137.60,585.50 L1137.23,587.00 L1136.88,588.50 L1136.54,590.00 L1136.22,591.50 L1135.90,593.00 L1135.60,594.50 L1135.31,596.00 L1135.03,597.50 L1134.76,599.00 L1134.50,600.50 L1134.25,602.00 L1134.02,603.50 L1133.79,605.00 L1133.57,606.50 L1133.35,608.00 L1133.15,609.50 L1132.95,611.00 L1132.77,612.50 L1132.58,614.00 L1132.41,615.50 L1132.24,617.00 L1132.08,618.50 L1131.93,620.00 L1131.77,621.50 L1131.63,623.00 L1131.49,624.50 L1131.35,626.00 L1131.22,627.50 L1131.09,629.00 L1130.97,630.50 L1130.84,632.00 L1130.72,633.50 L1130.61,635.00 L1130.49,636.50 L1130.38,638.00 L1130.27,639.50 L1130.15,641.00 L1130.04,642.50 L1129.93,644.00 L1129.82,645.50 L1129.71,647.00 L1129.59,648.50 L1129.48,650.00 L1129.37,651.50 L1129.25,653.00 L1129.13,654.50 L1129.02,656.00 L1128.90,657.50 L1128.79,659.00 L1128.67,660.50 L1128.55,662.00 L1128.44,663.50 L1128.32,665.00 L1128.21,666.50 L1128.10,668.00 L1127.99,669.50 L1127.88,671.00 L1127.77,672.50 L1127.67,674.00 L1127.56,675.50 L1127.46,677.00 L1127.37,678.50 L1127.27,680.00 L1127.18,681.50 L1127.09,683.00 L1127.00,684.50 L1126.92,686.00 L1126.84,687.50 L1126.76,689.00 L1126.69,690.50 L1126.62,692.00 L1126.56,693.50 L1126.50,695.00 L1126.44,696.50 L1126.39,698.00 L1126.35,699.50 L1126.31,701.00 L1126.27,702.50 L1126.24,704.00 L1126.22,705.50 L1126.20,707.00 L1126.19,708.50 L1126.18,710.00 L1126.18,711.50 L1126.19,713.00 L1126.21,714.50 L1126.23,716.00 L1126.26,717.50 L1126.29,719.00 L1126.34,720.50 L1126.39,722.00 L1126.45,723.50 L1126.52,725.00 L1126.59,726.50 L1126.60,726.70 L1220.7,726.7 Z" fill="#00a14b"/>
<path d="M1219,325.1 Q1220.4,325.1 1220.4,326.5 L1220.39,326.00 L1220.40,327.50 L1220.40,329.00 L1220.40,330.50 L1220.40,332.00 L1220.40,333.50 L1220.40,335.00 L1220.40,336.50 L1220.40,338.00 L1220.40,339.50 L1220.40,341.00 L1220.40,342.50 L1220.40,344.00 L1220.40,345.50 L1220.39,347.00 L1220.36,348.50 L1220.31,350.00 L1220.27,351.50 L1220.21,353.00 L1220.16,354.50 L1220.10,356.00 L1220.04,357.50 L1219.97,359.00 L1219.90,360.50 L1219.82,362.00 L1219.74,363.50 L1219.66,365.00 L1219.57,366.50 L1219.48,368.00 L1219.39,369.50 L1219.29,371.00 L1219.19,372.50 L1219.09,374.00 L1218.99,375.50 L1218.88,377.00 L1218.77,378.50 L1218.65,380.00 L1218.54,381.50 L1218.42,383.00 L1218.30,384.50 L1218.18,386.00 L1218.05,387.50 L1217.93,389.00 L1217.80,390.50 L1217.67,392.00 L1217.53,393.50 L1217.40,395.00 L1217.27,396.50 L1217.13,398.00 L1216.99,399.50 L1216.85,401.00 L1216.71,402.50 L1216.57,404.00 L1216.42,405.50 L1216.28,407.00 L1216.13,408.50 L1215.97,410.00 L1215.82,411.50 L1215.66,413.00 L1215.49,414.50 L1215.32,416.00 L1215.15,417.50 L1214.97,419.00 L1214.78,420.50 L1214.59,422.00 L1214.39,423.50 L1214.19,425.00 L1213.98,426.50 L1213.75,428.00 L1213.53,429.50 L1213.29,431.00 L1213.04,432.50 L1212.79,434.00 L1212.52,435.50 L1212.24,437.00 L1211.96,438.50 L1211.66,440.00 L1211.35,441.50 L1211.03,443.00 L1210.70,444.50 L1210.36,446.00 L1210.00,447.50 L1209.63,449.00 L1209.24,450.50 L1208.85,452.00 L1208.43,453.50 L1208.01,455.00 L1207.57,456.50 L1207.11,458.00 L1206.64,459.50 L1206.15,461.00 L1205.64,462.50 L1205.12,464.00 L1204.58,465.50 L1204.02,467.00 L1203.44,468.50 L1202.85,470.00 L1202.23,471.50 L1201.60,473.00 L1200.94,474.50 L1200.27,476.00 L1199.58,477.50 L1198.86,479.00 L1198.13,480.50 L1197.37,482.00 L1196.59,483.50 L1195.79,485.00 L1194.96,486.50 L1194.11,488.00 L1193.24,489.50 L1192.35,491.00 L1191.43,492.50 L1190.48,494.00 L1189.51,495.50 L1188.52,497.00 L1187.50,498.50 L1186.46,500.00 L1185.40,501.50 L1184.33,503.00 L1183.23,504.50 L1182.13,506.00 L1181.01,507.50 L1179.87,509.00 L1178.73,510.50 L1177.58,512.00 L1176.43,513.50 L1175.27,515.00 L1174.11,516.50 L1172.95,518.00 L1171.79,519.50 L1170.63,521.00 L1169.47,522.50 L1168.33,524.00 L1167.19,525.50 L1166.05,527.00 L1164.93,528.50 L1163.83,530.00 L1162.74,531.50 L1161.66,533.00 L1160.60,534.50 L1159.57,536.00 L1158.55,537.50 L1157.56,539.00 L1156.59,540.50 L1155.65,542.00 L1154.73,543.50 L1153.84,545.00 L1152.97,546.50 L1152.13,548.00 L1151.31,549.50 L1150.51,551.00 L1149.74,552.50 L1148.98,554.00 L1148.25,555.50 L1147.54,557.00 L1146.85,558.50 L1146.19,560.00 L1145.54,561.50 L1144.91,563.00 L1144.30,564.50 L1143.71,566.00 L1143.14,567.50 L1142.59,569.00 L1142.05,570.50 L1141.54,572.00 L1141.04,573.50 L1140.55,575.00 L1140.09,576.50 L1139.63,578.00 L1139.20,579.50 L1138.78,581.00 L1138.37,582.50 L1137.98,584.00 L1137.60,585.50 L1137.23,587.00 L1136.88,588.50 L1136.54,590.00 L1136.22,591.50 L1135.90,593.00 L1135.60,594.50 L1135.31,596.00 L1135.03,597.50 L1134.76,599.00 L1134.50,600.50 L1134.25,602.00 L1134.02,603.50 L1133.79,605.00 L1133.57,606.50 L1133.35,608.00 L1133.15,609.50 L1132.95,611.00 L1132.77,612.50 L1132.58,614.00 L1132.41,615.50 L1132.24,617.00 L1132.08,618.50 L1131.93,620.00 L1131.77,621.50 L1131.63,623.00 L1131.49,624.50 L1131.35,626.00 L1131.22,627.50 L1131.09,629.00 L1130.97,630.50 L1130.84,632.00 L1130.72,633.50 L1130.61,635.00 L1130.49,636.50 L1130.38,638.00 L1130.27,639.50 L1130.15,641.00 L1130.04,642.50 L1129.93,644.00 L1129.82,645.50 L1129.71,647.00 L1129.59,648.50 L1129.48,650.00 L1129.37,651.50 L1129.25,653.00 L1129.13,654.50 L1129.02,656.00 L1128.90,657.50 L1128.79,659.00 L1128.67,660.50 L1128.55,662.00 L1128.44,663.50 L1128.32,665.00 L1128.21,666.50 L1128.10,668.00 L1127.99,669.50 L1127.88,671.00 L1127.77,672.50 L1127.67,674.00 L1127.56,675.50 L1127.46,677.00 L1127.37,678.50 L1127.27,680.00 L1127.18,681.50 L1127.09,683.00 L1127.00,684.50 L1126.92,686.00 L1126.84,687.50 L1126.76,689.00 L1126.69,690.50 L1126.62,692.00 L1126.56,693.50 L1126.50,695.00 L1126.44,696.50 L1126.39,698.00 L1126.35,699.50 L1126.31,701.00 L1126.27,702.50 L1126.24,704.00 L1126.22,705.50 L1126.20,707.00 L1126.19,708.50 L1126.18,710.00 L1126.18,711.50 L1126.19,713.00 L1126.21,714.50 L1126.23,716.00 L1126.26,717.50 L1126.29,719.00 L1126.34,720.50 L1126.39,722.00 L1126.45,723.50 L1126.52,725.00 L1126.59,726.50 L1126.60,726.70" fill="none" stroke="#111" stroke-width="1.8"/>
<line x1="1127" y1="325.1" x2="1220.5" y2="325.1" stroke="#111" stroke-width="2"/>
<line x1="1127" y1="356.7" x2="1220.3" y2="356.7" stroke="#111" stroke-width="2"/>
<line x1="1127" y1="400.9" x2="1216.8" y2="400.9" stroke="#111" stroke-width="2"/>
<line x1="1127" y1="411.6" x2="1215.7" y2="411.6" stroke="#111" stroke-width="2"/>
<line x1="1126.8" y1="481.6" x2="1197" y2="481.6" stroke="#111" stroke-width="2"/>
<line x1="1127.7" y1="672.7" x2="1220.5" y2="672.7" stroke="#111" stroke-width="1.8"/>
<path d="M979,655.8 C973,625 971,560 978.5,518.4" fill="none" stroke="#111" stroke-width="2"/>
<path d="M1010.1,655.8 C1003,625 1002,560 1009.9,518.4" fill="none" stroke="#111" stroke-width="2"/>
<path d="M983.5,492.6 L988.7,523.5 L978.5,518.4 L968.4,519.8 Z" fill="#000"/>
<path d="M1014.5,492.6 L1019.7,523.5 L1009.9,518.4 L999.2,519.8 Z" fill="#000"/>
<circle cx="982.5" cy="672.9" r="8.0" fill="#fff" stroke="#1a1a1a" stroke-width="2.2"/>
<circle cx="1016.8" cy="672.9" r="8.0" fill="#fff" stroke="#1a1a1a" stroke-width="2.2"/>
<path d="M980.8,476.9 L988.0,486.9 M988.0,476.9 L980.8,486.9" stroke="#000" stroke-width="2.7"/>
<path d="M979.4,476.7 h3.2 M986.1999999999999,476.7 h3.2 M979.4,487.09999999999997 h3.2 M986.1999999999999,487.09999999999997 h3.2" stroke="#000" stroke-width="1.6"/>
<path d="M1012.4,476.9 L1019.6,486.9 M1019.6,476.9 L1012.4,486.9" stroke="#000" stroke-width="2.7"/>
<path d="M1011.0,476.7 h3.2 M1017.8,476.7 h3.2 M1011.0,487.09999999999997 h3.2 M1017.8,487.09999999999997 h3.2" stroke="#000" stroke-width="1.6"/>
<text x="909.2" y="487.3" font-size="26.5" font-family="Liberation Sans" fill="#111" >j</text>
<text x="916.1" y="494.8" font-size="24" font-family="Liberation Serif" fill="#111" font-style="italic">π</text>
<text x="909.6" y="683.1" font-size="27.5" font-family="Liberation Sans" fill="#111" >j</text>
<text x="917.2" y="692.9" font-size="24" font-family="Liberation Serif" fill="#111" font-style="italic">π</text>
<text x="930.0" y="688.6" font-size="22" font-family="Liberation Serif" fill="#111" >’</text>
<text x="1232.0" y="494.0" font-size="27" font-family="Liberation Sans" fill="#111" >j</text>
<text x="1239.3" y="502.4" font-size="26.5" font-family="Liberation Serif" fill="#111" >ν</text>
<text x="980.4" y="767.3" font-size="29" font-family="Liberation Serif" fill="#111" font-style="italic">π</text>
<text x="1165.8" y="767.6" font-size="28.5" font-family="Liberation Serif" fill="#111" >ν</text>
</svg>
</body></html>
